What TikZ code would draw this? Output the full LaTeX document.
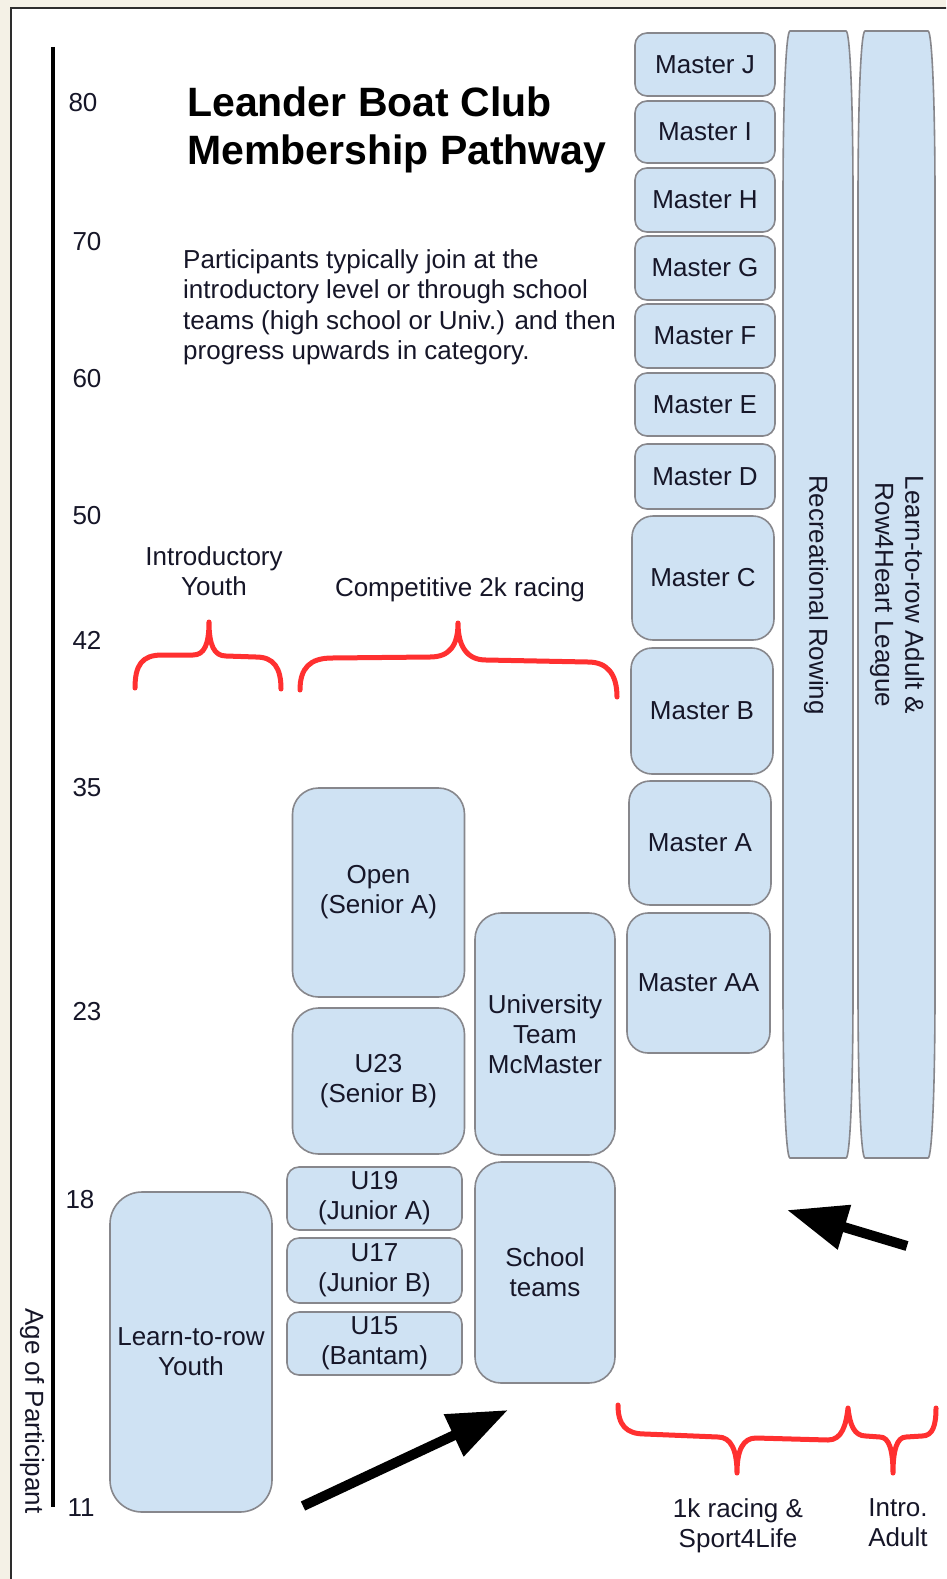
\documentclass[tikz,border=0pt]{standalone}
\usepackage{fontspec}
\setmainfont{Liberation Sans}
\usetikzlibrary{arrows.meta,positioning}
\definecolor{boxfill}{RGB}{207,226,243}
\definecolor{boxline}{RGB}{135,135,140}
\definecolor{bracered}{RGB}{255,48,48}
\definecolor{paper}{RGB}{244,241,230}
\definecolor{frameline}{RGB}{45,45,45}
\definecolor{txt}{RGB}{22,22,40}
\newcommand{\boxfont}{\fontsize{26}{30}\selectfont}

\begin{document}
\begin{tikzpicture}[x=1pt,y=-1pt,
	box/.style={draw=boxline,fill=boxfill,line width=1.6pt,inner sep=0pt,align=center,text=txt,font=\boxfont},
	rsmall/.style={box,rounded corners=12pt},
	rmid/.style={box,rounded corners=21pt},
	rbig/.style={box,rounded corners=26pt},
	lbl/.style={inner sep=0pt,align=center,text=txt,font=\boxfont},
	tick/.style={inner sep=0pt,text=txt,font=\boxfont},
	brc/.style={draw=bracered,line width=5pt,line cap=round,line join=round},
	tall/.style={fill=boxfill,draw=boxline,line width=1.6pt},
	bigarrow/.style={line width=10pt,-{Triangle[length=60pt,width=44pt]}}]
	\useasboundingbox (0,0) rectangle (946,1579);
	\clip (0,0) rectangle (946,1579);
	\fill[paper] (0,0) rectangle (946,1579);
	\draw[frameline,line width=2.5pt,fill=white] (11,8) rectangle (990,1620);
	\coordinate (axtop) at (53,47);
	\coordinate (axbot) at (53,1507);
	\draw[line width=4pt] (axtop) -- (axbot);
	\node (t80) [tick] at (83,103) {80};
	\node (t70) [tick] at (87,242) {70};
	\node (t60) [tick] at (87,379) {60};
	\node (t50) [tick] at (87,516) {50};
	\node (t42) [tick] at (87,640) {42};
	\node (t35) [tick] at (87,788) {35};
	\node (t23) [tick] at (87,1012) {23};
	\node (t18) [tick] at (80,1200) {18};
	\node (t11) [tick] at (81,1508) {11};
	\node (age) [lbl,rotate=-90] at (32,1411) {Age of Participant};
	\node (title) [inner sep=0pt,anchor=north west,align=left,font=\fontsize{41}{48}\selectfont\bfseries] at (187,87) {Leander Boat Club\\Membership Pathway};
	\node (intro) [inner sep=0pt,anchor=north west,align=left,text=txt,font=\fontsize{26}{30.5}\selectfont] at (183,249) {Participants typically join at the\\introductory level or through school\\teams (high school or Univ.) and then\\progress upwards in category.};
	\node (mj) [rsmall,minimum width=140pt,minimum height=63pt] at (705,64.5) {Master J};
	\node (mi) [rsmall,minimum width=140pt,minimum height=62pt] at (705,132) {Master I};
	\node (mh) [rsmall,minimum width=140pt,minimum height=64pt] at (705,200) {Master H};
	\node (mg) [rsmall,minimum width=140pt,minimum height=64pt] at (705,268) {Master G};
	\node (mf) [rsmall,minimum width=140pt,minimum height=64pt] at (705,336) {Master F};
	\node (me) [rsmall,minimum width=140pt,minimum height=63pt] at (705,404.5) {Master E};
	\node (md) [rsmall,minimum width=140pt,minimum height=65pt] at (705,476.5) {Master D};
	\node (mc) [rmid,minimum width=142pt,minimum height=124pt] at (703,578) {Master C};
	\node (mb) [rmid,minimum width=142pt,minimum height=126pt] at (702,711) {Master B};
	\node (ma) [rmid,minimum width=142pt,minimum height=124pt] at (700,843) {Master A};
	\node (maa) [rmid,minimum width=143pt,minimum height=140pt] at (698.5,983) {Master AA};
	\draw[tall] (790,31) -- (846,31) .. controls (850,31) and (853,100) .. (853,200) -- (853,990) .. controls (853,1090) and (850,1158) .. (846,1158) -- (790,1158) .. controls (786,1158) and (783,1090) .. (783,990) -- (783,200) .. controls (783,100) and (786,31) .. (790,31) -- cycle;
	\draw[tall] (865,31) -- (928,31) .. controls (932,31) and (935,100) .. (935,200) -- (935,990) .. controls (935,1090) and (932,1158) .. (928,1158) -- (865,1158) .. controls (861,1158) and (858,1090) .. (858,990) -- (858,200) .. controls (858,100) and (861,31) .. (865,31) -- cycle;
	\node (rec) [lbl,rotate=-90] at (816,595) {Recreational Rowing};
	\node (adult) [lbl,rotate=-90] at (897,595) {Learn-to-row Adult \&\\Row4Heart League};
	\node (open) [rbig,minimum width=172pt,minimum height=209pt] at (378.5,892.5) {Open\\(Senior A)};
	\node (u23) [rbig,minimum width=172pt,minimum height=146pt] at (378.5,1081) {U23\\(Senior B)};
	\node (univ) [rbig,minimum width=140pt,minimum height=242pt] at (545,1034) {University\\Team\\McMaster};
	\node (u19) [rsmall,minimum width=175pt,minimum height=63pt] at (374.5,1198.5) {U19\\(Junior A)};
	\node (u17) [rsmall,minimum width=175pt,minimum height=65pt] at (374.5,1270.5) {U17\\(Junior B)};
	\node (u15) [rsmall,minimum width=175pt,minimum height=63pt] at (374.5,1343.5) {U15\\(Bantam)};
	\node (school) [rbig,minimum width=140pt,minimum height=221pt] at (545,1272.5) {School\\teams};
	\node (youth) [box,rounded corners=32pt,minimum width=162pt,minimum height=320pt] at (191,1352) {Learn-to-row\\Youth};
	\node (lyouth) [lbl,anchor=north] at (214,546) {Introductory\\Youth};
	\node (lcomp) [lbl,anchor=north] at (460,577) {Competitive 2k racing};
	\node (lonek) [lbl,anchor=north] at (738,1498) {1k racing \&\\Sport4Life};
	\node (ladult) [lbl,anchor=north,align=left] at (898,1498) {Intro.\\Adult};
	\draw[brc] (135,688) .. controls (135,665) and (142,655) .. (162,655) -- (193,655) .. controls (204,655) and (209,645) .. (209,622) .. controls (209,645) and (214,656) .. (226,656) -- (256,657) .. controls (274,657) and (281,668) .. (281,689);
	\draw[brc] (300,690) .. controls (300,668) and (310,658) .. (332,658) -- (430,657) .. controls (450,657) and (458,645) .. (458,623) .. controls (458,645) and (466,660) .. (486,660) -- (588,662) .. controls (608,662) and (617,675) .. (617,697);
	\draw[brc] (618,1405) .. controls (618,1425) and (626,1434) .. (645,1434) -- (718,1437) .. controls (731,1437) and (737,1450) .. (737,1473) .. controls (737,1450) and (743,1438) .. (756,1438) -- (828,1440) .. controls (842,1440) and (846,1425) .. (848,1408) .. controls (850,1425) and (854,1436) .. (866,1436) -- (880,1437) .. controls (889,1437) and (893,1450) .. (893,1473) .. controls (893,1450) and (897,1437) .. (906,1437) -- (922,1436) .. controls (933,1436) and (936,1425) .. (936,1408);
	\coordinate (a1s) at (303,1506);
	\coordinate (a1e) at (508,1410);
	\coordinate (a2s) at (907,1246);
	\coordinate (a2e) at (787,1210);
	\draw[bigarrow] (a1s) -- (a1e);
	\draw[bigarrow] (a2s) -- (a2e);
\end{tikzpicture}
\end{document}
